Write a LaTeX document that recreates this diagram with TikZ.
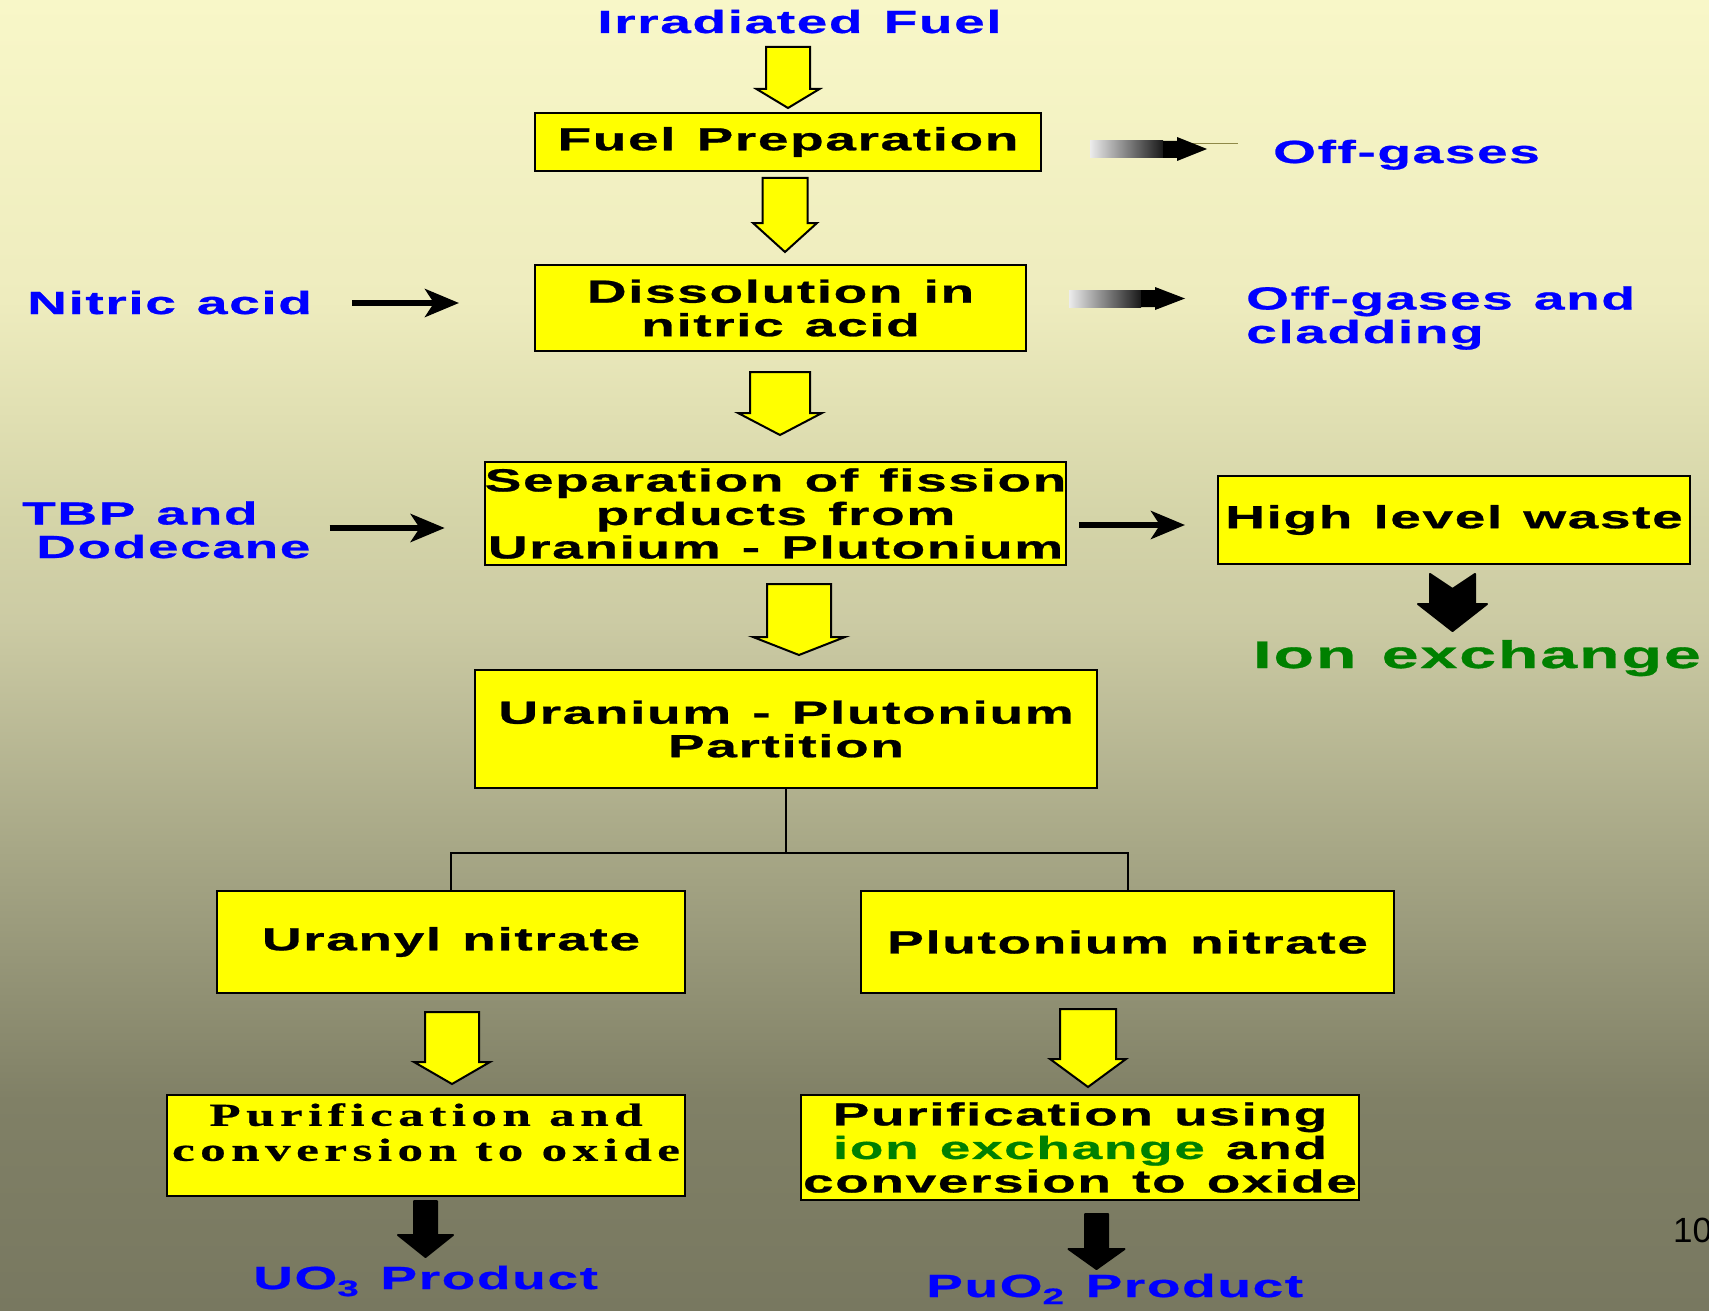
\documentclass[tikz,border=0pt]{standalone}
\usepackage{fontspec}
\usetikzlibrary{calc,arrows.meta}

\newfontfamily\widesans[FakeStretch=1.72,LetterSpace=5,WordSpace=1.25,FakeBold=0.8]{Liberation Sans}
\newfontfamily\wideserif[FakeStretch=1.6,LetterSpace=17,Ligatures=CommonOff,FakeBold=0.6]{Liberation Serif}
\newfontfamily\pagesans{Liberation Sans}

\newcommand{\boxfont}{\widesans\bfseries\fontsize{32}{33.5}\selectfont}
\newcommand{\ionfont}{\widesans\bfseries\fontsize{38.5}{40}\selectfont}
\newcommand{\oxidefont}{\wideserif\bfseries\fontsize{32}{35}\selectfont}

\definecolor{labelblue}{RGB}{0,0,255}
\definecolor{iongreen}{RGB}{0,128,0}
\definecolor{boxyellow}{RGB}{255,255,0}
\definecolor{bg0}{RGB}{248,247,200}
\definecolor{bg1}{RGB}{238,236,190}
\definecolor{bg2}{RGB}{212,212,168}
\definecolor{bg3}{RGB}{204,203,164}
\definecolor{bg4}{RGB}{167,167,134}
\definecolor{bg5}{RGB}{128,128,102}
\definecolor{bg6}{RGB}{120,120,96}

\pgfdeclareverticalshading{slidebg}{100bp}{color(0bp)=(bg6); color(25bp)=(bg6);
  color(33.05bp)=(bg5); color(42.58bp)=(bg4); color(51.36bp)=(bg3);
  color(55.17bp)=(bg2); color(63.56bp)=(bg1); color(75bp)=(bg0); color(100bp)=(bg0)}

\tikzset{
  stepbox/.style={draw=black, line width=2pt, fill=boxyellow, inner sep=0pt,
    align=center, font=\boxfont},
  bluetext/.style={text=labelblue, font=\boxfont, inner sep=0pt},
  feed/.style={line width=6pt, -{Stealth[length=34pt,width=28pt,inset=9pt]}},
  treeline/.style={line width=2pt},
  hollowdown/.style={draw=black, line width=2pt, fill=boxyellow, line join=miter},
  soliddown/.style={draw=black, fill=black, line width=2pt, line join=round},
  % block arrow pointing down: shaft half width, head half width, head length
  fatdown/.style n args={3}{to path={let \p1=(\tikztostart), \p2=(\tikztotarget) in
    (\x1-#1pt,\y1) -- (\x1-#1pt,\y2+#3pt) -- (\x1-#2pt,\y2+#3pt) -- (\x1,\y2)
    -- (\x1+#2pt,\y2+#3pt) -- (\x1+#1pt,\y2+#3pt) -- (\x1+#1pt,\y1) -- cycle}},
  % same with a notched tail
  notchdown/.style n args={4}{to path={let \p1=(\tikztostart), \p2=(\tikztotarget) in
    (\x1-#1pt,\y1) -- (\x1,\y1-#4pt) -- (\x1+#1pt,\y1) -- (\x1+#1pt,\y2+#3pt)
    -- (\x1+#2pt,\y2+#3pt) -- (\x1,\y2) -- (\x1-#2pt,\y2+#3pt) -- (\x1-#1pt,\y2+#3pt) -- cycle}},
}

\begin{document}
\begin{tikzpicture}[x=1pt,y=-1pt]
  % slide background
  \shade[shading=slidebg] (0,0) rectangle (1709,1311);
  \useasboundingbox (0,0) rectangle (1709,1311);

  % process boxes
  \node[stepbox, minimum width=506pt, minimum height=58pt] (prep) at (788,142) {Fuel Preparation};
  \node[stepbox, minimum width=491pt, minimum height=86pt] (diss) at (780.5,308) {Dissolution in\\nitric acid};
  \node[stepbox, minimum width=579pt, minimum height=103pt] (sep) at (775.5,513.5) {Separation of fission\\prducts from\\Uranium - Plutonium};
  \node[stepbox, minimum width=472pt, minimum height=88pt] (hlw) at (1454,520) {High level waste};
  \node[stepbox, minimum width=622pt, minimum height=118pt] (part) at (786,729) {Uranium - Plutonium\\Partition};
  \node[stepbox, minimum width=468pt, minimum height=102pt] (uranyl) at (451,942) {Uranyl nitrate};
  \node[stepbox, minimum width=533pt, minimum height=102pt] (pun) at (1127.5,942) {Plutonium nitrate};
  \node[stepbox, font=\oxidefont, minimum width=518pt, minimum height=101pt] (purl) at (426,1145.5) {Purification and\\conversion to oxide\\[-8pt]\mbox{}};
  \node[stepbox, minimum width=558pt, minimum height=105pt] (purr) at (1080,1147.5) {Purification using\\\textcolor{iongreen}{ion exchange} and\\conversion to oxide};

  % inputs and outputs
  \node[bluetext, anchor=base] (irr) at (799.5,33) {Irradiated Fuel};
  \node[bluetext, anchor=base west] (offg1) at (1273,163) {Off-gases};
  \node[bluetext, anchor=base west] (nitric) at (27,314) {Nitric acid};
  \node[bluetext, anchor=base west, align=left] (offg2) at (1246,343) {Off-gases and\\cladding};
  \node[bluetext, anchor=base west, align=left] (tbp) at (22,558) {TBP and\\\hspace*{14pt}Dodecane};
  \node[text=iongreen, font=\ionfont, inner sep=0pt, anchor=base west] (ionx) at (1253,668) {Ion exchange};
  \node[bluetext, anchor=base west] (uo3) at (253,1289) {UO\textsubscript{3} Product};
  \node[bluetext, anchor=base west] (puo2) at (926,1297) {PuO\textsubscript{2} Product};
  \node[font=\pagesans\fontsize{35}{35}\selectfont, inner sep=0pt, anchor=base west] (pagenum) at (1673,1242) {10};

  % main flow
  \draw[hollowdown] ($(irr.base -| prep.north)+(0,14)$) to[fatdown={22}{31.5}{19}] ($(prep.north)+(0,-4)$);
  \draw[hollowdown] ($(prep.south)+(-3,6)$) to[fatdown={22.5}{32}{29}] ($(diss.north)+(0,-12)$);
  \draw[hollowdown] ($(diss.south)+(-0.5,20)$) to[fatdown={30}{42}{22}] ($(sep.north)+(0,-26)$);
  \draw[hollowdown] ($(sep.south)+(23.5,18)$) to[fatdown={32}{46}{18}] ($(part.north)+(0,-14)$);
  \draw[hollowdown] ($(uranyl.south)+(1,18)$) to[fatdown={27}{38}{22}] ($(purl.north)+(0,-10)$);
  \draw[hollowdown] ($(pun.south)+(-39.5,15)$) to[fatdown={28}{38}{28}] ($(purr.north)+(0,-7)$);

  % partition split
  \draw[treeline] (part.south) -- ++(0,64) coordinate (split);
  \draw[treeline] (uranyl.north) |- (split) -| (pun.north);

  % feeds
  \draw[feed] ($(nitric.base east)+(40,-11)$) -- ($(diss.west |- nitric.base)+(-75,-11)$);
  \draw[feed] ($(sep.west)+(-154,14.5)$) -- ($(sep.west)+(-39,14.5)$);
  \draw[feed] ($(sep.east)+(12,11.5)$) -- ($(sep.east -| hlw.west)+(-32,11.5)$);

  % off-gas arrows
  \draw[line width=0.8pt, draw=olive!50!gray] ($(prep.east)+(144,1)$) -- ++(52,0);
  \shade[left color=gray!15, right color=black!90] ($(prep.east)+(48,-1)$) rectangle ++(73,17);
  \fill ($(prep.east)+(121,-1)$) -- ++(14,0) -- ++(0,-4) -- ++(30,12) -- ++(-30,12) -- ++(0,-3) -- ++(-14,0) -- cycle;
  \shade[left color=gray!15, right color=black!90] ($(diss.east)+(42,-18)$) rectangle ++(72,17);
  \fill ($(diss.east)+(114,-18)$) -- ++(14,0) -- ++(0,-3) -- ++(30,11.5) -- ++(-30,11.5) -- ++(0,-3) -- ++(-14,0) -- cycle;

  % waste and products
  \draw[soliddown] ($(hlw.south)+(-1.5,9)$) to[notchdown={22.5}{34.5}{27}{15}] ($(ionx.base)+(0,-37)$);
  \draw[soliddown] ($(purl.south)+(-0.5,4)$) to[fatdown={11.5}{27.5}{22}] ($(uo3.base)+(0,-32)$);
  \draw[soliddown] ($(purr.south)+(16.5,13)$) to[fatdown={11.5}{28}{20}] ($(puo2.base)+(0,-28)$);
\end{tikzpicture}
\end{document}
